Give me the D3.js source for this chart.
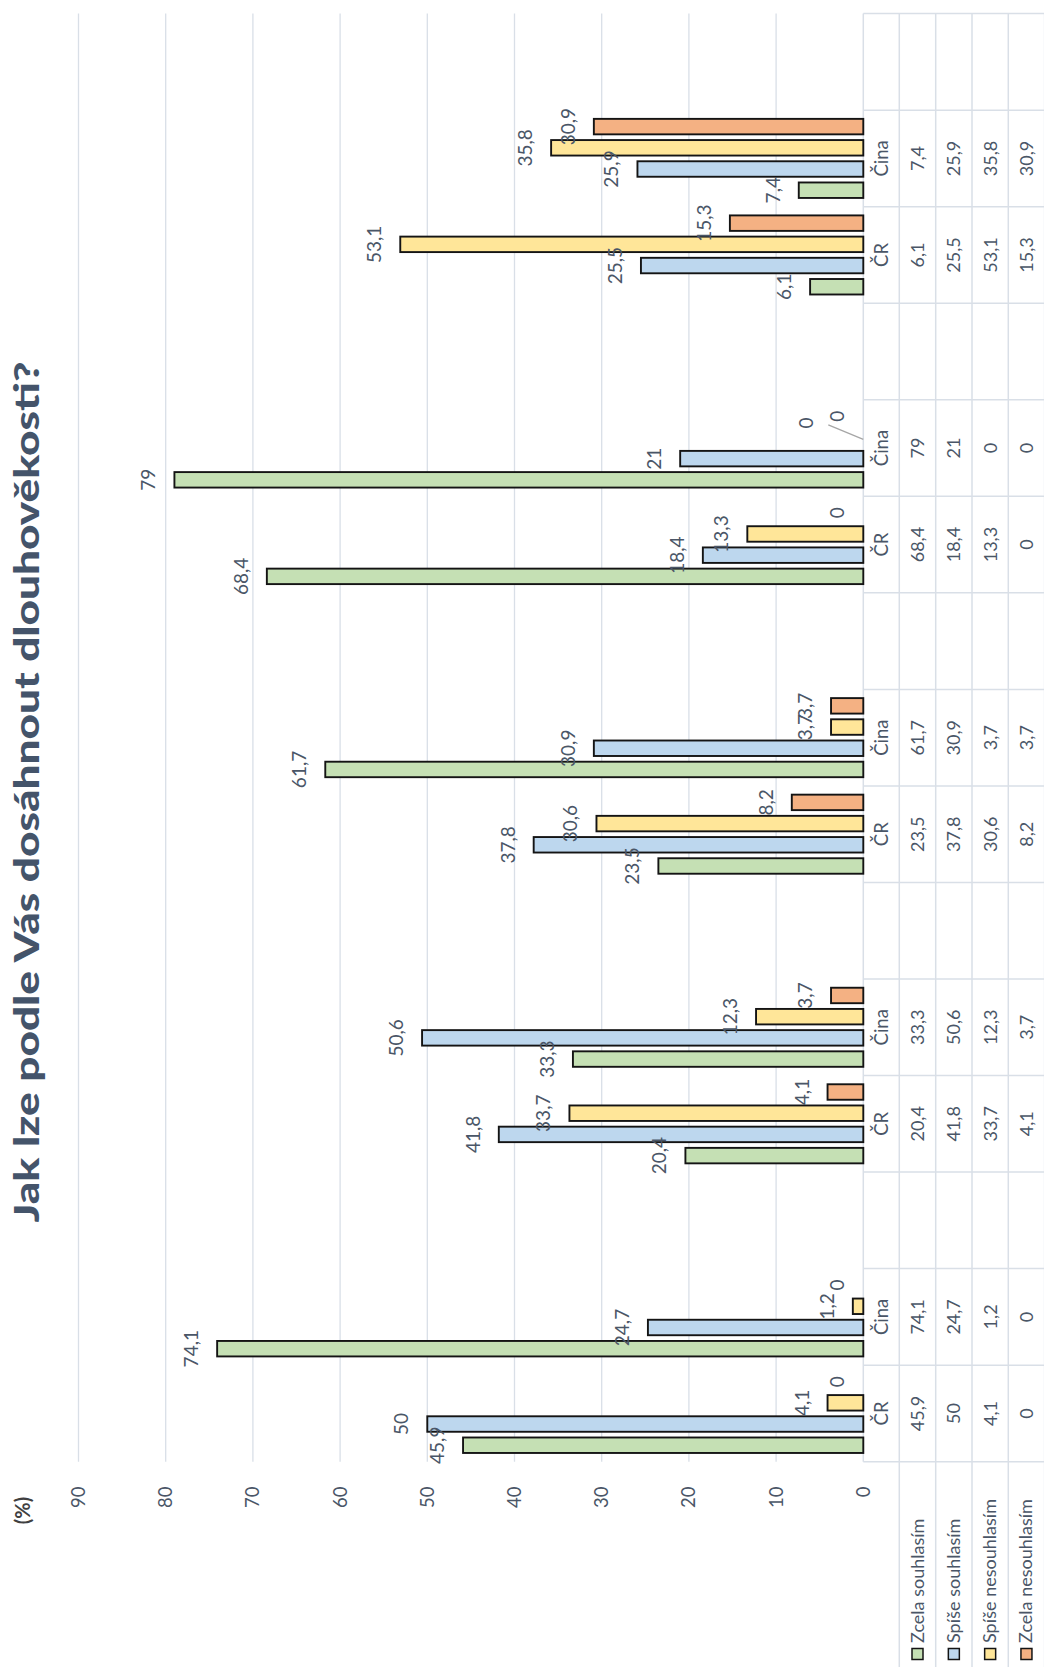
<!DOCTYPE html>
<html><head><meta charset="utf-8">
<script src="https://cdn.jsdelivr.net/npm/d3@7"></script>
<style>body{margin:0;background:#fff} svg{display:block}</style>
</head><body>
<svg id="chart" width="1044" height="1667"></svg>
<script>
// ---- data ----
const title = "Jak lze podle Vás dosáhnout dlouhověkosti?";
const unitLabel = "(%)";
const categories = ["ČR","Čina","","ČR","Čina","","ČR","Čina","","ČR","Čina","","ČR","Čina",""];
const seriesNames = ["Zcela souhlasím","Spíše souhlasím","Spíše nesouhlasím","Zcela nesouhlasím"];
const zcelaSouhlasim   = [45.9,74.1,null,20.4,33.3,null,23.5,61.7,null,68.4,79,null,6.1,7.4,null];
const spiseSouhlasim   = [50,24.7,null,41.8,50.6,null,37.8,30.9,null,18.4,21,null,25.5,25.9,null];
const spiseNesouhlasim = [4.1,1.2,null,33.7,12.3,null,30.6,3.7,null,13.3,0,null,53.1,35.8,null];
const zcelaNesouhlasim = [0,0,null,4.1,3.7,null,8.2,3.7,null,0,0,null,15.3,30.9,null];
const yTicks = [0,10,20,30,40,50,60,70,80,90];
const seriesColors = ["#C5E0B4","#BDD7EE","#FFE699","#F4B183"];

const seriesValues = [zcelaSouhlasim, spiseSouhlasim, spiseNesouhlasim, zcelaNesouhlasim];
// manually moved label (with leader line): category index, series index, offsets
const movedLabels = [{c:10, s:2, du:14.5, dv:-31.5}];

// ---- layout (unrotated frame: u along, v down) ----
const W = 1667, H = 1044;
const plotL = 205.3, plotR = 1653.4;
const zeroV = 863.3, topV = 78.5;
const rowEdges = [863.3, 899.3, 935.7, 972, 1008.3, 1044.6];

const fmt = v => String(v).replace(".", ",");
const txtCol = "#4A5667";
const font = "Lato, 'Open Sans', sans-serif";

const svg = d3.select("#chart");
const g = svg.append("g").attr("transform", `translate(0,${W}) rotate(-90)`);

const x0 = d3.scaleBand().domain(d3.range(categories.length)).range([plotL, plotR])
  .paddingInner(0.1216).paddingOuter(0.0608);
const x1 = d3.scaleBand().domain(d3.range(seriesNames.length)).range([0, x0.bandwidth()])
  .paddingInner(0.27).paddingOuter(0.135);
const y = d3.scaleLinear().domain([0, 90]).range([zeroV, topV]);
const slot = x0.step();
const slotStart = i => plotL + i * slot;

// gridlines
g.append("g").selectAll("line").data(yTicks.filter(t => t > 0)).join("line")
  .attr("x1", plotL).attr("x2", plotR).attr("y1", d => y(d)).attr("y2", d => y(d))
  .attr("stroke", "#D9DFE7").attr("stroke-width", 1.3);

// value axis labels
g.append("g").selectAll("text").data(yTicks).join("text")
  .attr("x", 180.5).attr("y", d => y(d) + 6.5)
  .attr("text-anchor", "end").attr("font-family", font).attr("font-size", 18.5)
  .attr("fill", txtCol).text(d => d);

// unit label
g.append("text").attr("x", 156.5).attr("y", 30).attr("text-anchor", "middle")
  .attr("font-family", font).attr("font-size", 20).attr("font-weight", 700)
  .attr("fill", "#404040").text(unitLabel);

// title
g.append("text").attr("x", 875).attr("y", 39).attr("text-anchor", "middle")
  .attr("font-family", font).attr("font-size", 35).attr("font-weight", 900)
  .attr("fill", "#44546A").attr("textLength", 861).attr("lengthAdjust", "spacingAndGlyphs")
  .text(title);

// table lines
const tbl = g.append("g").attr("stroke", "#D9DFE7").attr("stroke-width", 1.5);
rowEdges.forEach((v, i) => {
  tbl.append("line").attr("x1", i === 0 ? plotL : 0).attr("x2", plotR)
    .attr("y1", v).attr("y2", v);
});
d3.range(categories.length + 1).forEach(i => {
  tbl.append("line").attr("x1", slotStart(i)).attr("x2", slotStart(i))
    .attr("y1", rowEdges[0]).attr("y2", H);
});

// bars
const barData = [];
categories.forEach((c, ci) => {
  seriesValues.forEach((arr, si) => {
    if (arr[ci] !== null) barData.push({ci, si, v: arr[ci]});
  });
});
g.append("g").selectAll("rect").data(barData).join("rect")
  .attr("x", d => x0(d.ci) + x1(d.si))
  .attr("width", x1.bandwidth())
  .attr("y", d => y(d.v))
  .attr("height", d => zeroV - y(d.v))
  .attr("fill", d => seriesColors[d.si])
  .attr("stroke", "#141414").attr("stroke-width", 1.9);

// leader lines
movedLabels.forEach(m => {
  const cu = x0(m.c) + x1(m.s) + x1.bandwidth() / 2;
  const v = seriesValues[m.s][m.c];
  g.append("line").attr("x1", cu - 2).attr("y1", y(v))
    .attr("x2", cu + m.du - 2).attr("y2", y(v) - 35)
    .attr("stroke", "#A6A6A6").attr("stroke-width", 1.3);
});

// data labels
g.append("g").selectAll("text").data(barData).join("text")
  .attr("x", d => {
    const m = movedLabels.find(o => o.c === d.ci && o.s === d.si);
    return x0(d.ci) + x1(d.si) + x1.bandwidth() / 2 + (m ? m.du : 0);
  })
  .attr("y", d => {
    const m = movedLabels.find(o => o.c === d.ci && o.s === d.si);
    return y(d.v) - 19 + (m ? m.dv : 0);
  })
  .attr("text-anchor", "middle").attr("font-family", font).attr("font-size", 19)
  .attr("fill", txtCol).text(d => fmt(d.v));

// table: category labels
g.append("g").selectAll("text").data(categories.map((c, i) => ({c, i})).filter(d => d.c)).join("text")
  .attr("x", d => x0(d.i) + x0.bandwidth() / 2)
  .attr("y", (rowEdges[0] + rowEdges[1]) / 2 + 7)
  .attr("text-anchor", "middle").attr("font-family", font).attr("font-size", 18.5)
  .attr("fill", txtCol).text(d => d.c);

// table: values
seriesValues.forEach((arr, si) => {
  const cy = (rowEdges[si + 1] + rowEdges[si + 2]) / 2;
  g.append("g").selectAll("text").data(arr.map((v, i) => ({v, i})).filter(d => d.v !== null)).join("text")
    .attr("x", d => x0(d.i) + x0.bandwidth() / 2)
    .attr("y", cy + 6.5)
    .attr("text-anchor", "middle").attr("font-family", font).attr("font-size", 18)
    .attr("fill", txtCol).text(d => fmt(d.v));
  // legend key + name in row header
  g.append("rect").attr("x", 7.5).attr("y", cy - 5.5).attr("width", 11).attr("height", 11)
    .attr("fill", seriesColors[si]).attr("stroke", "#141414").attr("stroke-width", 1.5);
  g.append("text").attr("x", 24).attr("y", cy + 6)
    .attr("font-family", font).attr("font-size", 18)
    .attr("fill", txtCol).text(seriesNames[si]);
});
</script>
</body></html>
